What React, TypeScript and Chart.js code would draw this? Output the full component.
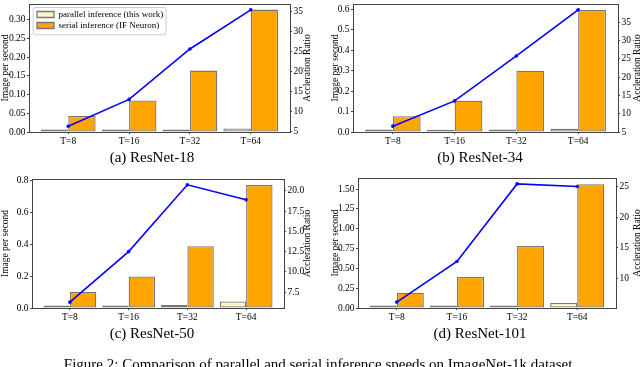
import React, { useEffect, useRef } from 'react';
import { Chart, registerables } from 'chart.js';

Chart.register(...registerables);

const FONT = "'Liberation Serif', 'Times New Roman', serif";
Chart.defaults.font.family = FONT;
Chart.defaults.font.size = 9.5;
Chart.defaults.color = '#000';

// ---------- data ----------
const categories = ['T=8', 'T=16', 'T=32', 'T=64'];
const xPositions = [0, 1, 2, 3];
const xRange = [-0.645, 3.645];

const seriesNames = ['parallel inference (this work)', 'serial inference (IF Neuron)'];
const leftAxisTitle = 'Image per second';
const rightAxisTitle = 'Accleration Ratio';

// ResNet-18
const parallel18 = [0.0068, 0.0065, 0.0065, 0.0095];
const serial18 = [0.043, 0.084, 0.164, 0.327];
const ratio18 = [6.4, 13.1, 25.7, 35.5];
const leftTicks18 = [0, 0.05, 0.1, 0.15, 0.2, 0.25, 0.3];
const rightTicks18 = [5, 10, 15, 20, 25, 30, 35];
const leftRange18 = [0, 0.342];
const rightRange18 = [4.95, 36.95];

// ResNet-34
const parallel34 = [0.0118, 0.0115, 0.0117, 0.0157];
const serial34 = [0.077, 0.153, 0.3, 0.597];
const ratio34 = [6.6, 13.5, 25.8, 38.4];
const leftTicks34 = [0, 0.1, 0.2, 0.3, 0.4, 0.5, 0.6];
const rightTicks34 = [5, 10, 15, 20, 25, 30, 35];
const leftRange34 = [0, 0.626];
const rightRange34 = [5.0, 40.0];

// ResNet-50
const parallel50 = [0.016, 0.016, 0.019, 0.041];
const serial50 = [0.1, 0.198, 0.388, 0.773];
const ratio50 = [6.27, 12.5, 20.74, 18.89];
const leftTicks50 = [0, 0.2, 0.4, 0.6, 0.8];
const rightTicks50 = [7.5, 10, 12.5, 15, 17.5, 20];
const leftRange50 = [0, 0.811];
const rightRange50 = [5.55, 21.46];

// ResNet-101
const parallel101 = [0.031, 0.031, 0.031, 0.063];
const serial101 = [0.194, 0.392, 0.784, 1.563];
const ratio101 = [6.22, 12.8, 25.38, 24.95];
const leftTicks101 = [0, 0.25, 0.5, 0.75, 1.0, 1.25, 1.5];
const rightTicks101 = [10, 15, 20, 25];
const leftRange101 = [0, 1.641];
const rightRange101 = [5.26, 26.34];

const captions = ['(a) ResNet-18', '(b) ResNet-34', '(c) ResNet-50', '(d) ResNet-101'];
const figureCaption = 'Figure 2: Comparison of parallel and serial inference speeds on ImageNet-1k dataset.';

// ---------- panels (data + layout) ----------
const panels = [
  {
    parallel: parallel18, serial: serial18, ratio: ratio18,
    leftTicks: leftTicks18, leftDec: 2, leftRange: leftRange18,
    rightTicks: rightTicks18, rightDec: 0, rightRange: rightRange18,
    legend: true,
    box: { x: 0, y: 0, w: 320, h: 150 },
    pad: { top: 3, left: 29, right: 30, bottom: 18 },
    leftTitlePad: 0.25, rightTitleX: 307,
  },
  {
    parallel: parallel34, serial: serial34, ratio: ratio34,
    leftTicks: leftTicks34, leftDec: 1, leftRange: leftRange34,
    rightTicks: rightTicks34, rightDec: 0, rightRange: rightRange34,
    legend: false,
    box: { x: 320, y: 0, w: 320, h: 150 },
    pad: { top: 0, left: 33, right: 22, bottom: 18 },
    leftTitlePad: 10.25, rightTitleX: 317,
  },
  {
    parallel: parallel50, serial: serial50, ratio: ratio50,
    leftTicks: leftTicks50, leftDec: 1, leftRange: leftRange50,
    rightTicks: rightTicks50, rightDec: 1, rightRange: rightRange50,
    legend: false,
    box: { x: 0, y: 170, w: 320, h: 160 },
    pad: { top: 9, left: 32, right: 36, bottom: 22 },
    leftTitlePad: 0.25, rightTitleX: 307.5,
  },
  {
    parallel: parallel101, serial: serial101, ratio: ratio101,
    leftTicks: leftTicks101, leftDec: 2, leftRange: leftRange101,
    rightTicks: rightTicks101, rightDec: 0, rightRange: rightRange101,
    legend: false,
    box: { x: 320, y: 170, w: 320, h: 160 },
    pad: { top: 8, left: 38, right: 24, bottom: 22 },
    leftTitlePad: 10.25, rightTitleX: 317,
  },
];

const captionPos = [
  { cx: 152, top: 150 },
  { cx: 480, top: 150 },
  { cx: 152, top: 326 },
  { cx: 480, top: 326 },
];

const PARALLEL_COLOR = '#FFF5CC';
const SERIAL_COLOR = '#FFA500';
const EDGE_COLOR = '#777777';
const LINE_COLOR = '#0000FF';
const SPINE_COLOR = '#444444';

function buildConfig(p: any): any {
  const decor = {
    id: 'decor',
    afterLayout(chart: any) {
      if (p.legend && chart.legend) {
        chart.legend.left = chart.chartArea.left + 6;
        chart.legend.top = chart.chartArea.top + 4;
      }
    },
    beforeDraw(chart: any) {
      if (!p.legend || !chart.legend) return;
      const lg = chart.legend;
      const pd = 2;
      const bx = lg.left + pd;
      const by = lg.top + pd;
      const maxW = Math.max(...(lg.legendHitBoxes || []).map((h: any) => h.width));
      const n = (lg.legendItems || []).length;
      const x = bx - 4.3;
      const y = by - 3;
      const w = maxW + 4.3 + 2.4;
      const h = n * 9 + (n - 1) * pd + 3 + 4.3;
      const ctx = chart.ctx;
      ctx.save();
      ctx.beginPath();
      if (ctx.roundRect) ctx.roundRect(x + 0.5, y + 0.5, w, h, 2);
      else ctx.rect(x + 0.5, y + 0.5, w, h);
      ctx.fillStyle = 'rgba(255,255,255,0.8)';
      ctx.fill();
      ctx.strokeStyle = '#cccccc';
      ctx.lineWidth = 1;
      ctx.stroke();
      ctx.restore();
    },
    afterDraw(chart: any) {
      const ctx = chart.ctx;
      const a = chart.chartArea;
      ctx.save();
      ctx.strokeStyle = SPINE_COLOR;
      ctx.lineWidth = 1;
      ctx.strokeRect(a.left + 0.5, a.top + 0.5, a.right - a.left, a.bottom - a.top);
      ctx.translate(p.rightTitleX, (a.top + a.bottom) / 2);
      ctx.rotate(-Math.PI / 2);
      ctx.font = `9.5px ${FONT}`;
      ctx.fillStyle = '#000';
      ctx.textAlign = 'center';
      ctx.textBaseline = 'middle';
      ctx.fillText(rightAxisTitle, 0, 0);
      ctx.restore();
    },
  };

  const tickGrid = {
    display: true,
    drawOnChartArea: false,
    drawTicks: true,
    tickLength: 2,
    color: SPINE_COLOR,
    offset: false,
  };

  return {
    type: 'bar',
    data: {
      datasets: [
        {
          type: 'bar',
          label: seriesNames[0],
          data: p.parallel.map((v: number, i: number) => ({ x: xPositions[i], y: v })),
          backgroundColor: PARALLEL_COLOR,
          borderColor: EDGE_COLOR,
          borderWidth: 1.3,
          borderSkipped: false,
          categoryPercentage: 0.9,
          barPercentage: 1.0,
          yAxisID: 'y',
          order: 0,
        },
        {
          type: 'bar',
          label: seriesNames[1],
          data: p.serial.map((v: number, i: number) => ({ x: xPositions[i], y: v })),
          backgroundColor: SERIAL_COLOR,
          borderColor: EDGE_COLOR,
          borderWidth: 1.3,
          borderSkipped: false,
          categoryPercentage: 0.9,
          barPercentage: 1.0,
          yAxisID: 'y',
          order: 0,
        },
        {
          type: 'line',
          label: rightAxisTitle,
          data: p.ratio.map((v: number, i: number) => ({ x: xPositions[i], y: v })),
          borderColor: LINE_COLOR,
          backgroundColor: LINE_COLOR,
          borderWidth: 1.6,
          pointRadius: 1.8,
          pointBorderWidth: 0,
          pointBackgroundColor: LINE_COLOR,
          tension: 0,
          fill: false,
          yAxisID: 'y1',
          order: -1,
        },
      ],
    },
    options: {
      responsive: false,
      maintainAspectRatio: false,
      animation: false,
      devicePixelRatio: 1,
      events: [],
      layout: { padding: { top: p.pad.top, left: 0, right: 0, bottom: 0 } },
      plugins: {
        tooltip: { enabled: false },
        title: { display: false },
        legend: {
          display: p.legend,
          position: 'chartArea',
          align: 'start',
          labels: {
            boxWidth: 17,
            boxHeight: 6,
            padding: 2,
            color: '#000',
            font: { size: 9, family: FONT },
            filter: (item: any) => item.datasetIndex < 2,
          },
        },
      },
      scales: {
        x: {
          type: 'linear',
          min: xRange[0],
          max: xRange[1],
          offset: false,
          grid: tickGrid,
          border: { display: false },
          ticks: {
            autoSkip: false,
            maxRotation: 0,
            minRotation: 0,
            padding: 1.5,
            color: '#000',
            font: { size: 9.5 },
            callback: (_v: any, i: number) => categories[i],
          },
          afterBuildTicks: (s: any) => {
            s.ticks = xPositions.map((v) => ({ value: v }));
          },
          afterFit: (s: any) => {
            s.height = p.pad.bottom;
            s.paddingLeft = 0;
            s.paddingRight = 0;
          },
        },
        y: {
          type: 'linear',
          position: 'left',
          min: p.leftRange[0],
          max: p.leftRange[1],
          grid: tickGrid,
          border: { display: false },
          title: {
            display: true,
            text: leftAxisTitle,
            color: '#000',
            font: { size: 9.5, lineHeight: 1 },
            padding: { top: p.leftTitlePad, bottom: 0 },
          },
          ticks: {
            padding: 1.5,
            color: '#000',
            font: { size: 9.5 },
            callback: (v: any) => Number(v).toFixed(p.leftDec),
          },
          afterBuildTicks: (s: any) => {
            s.ticks = p.leftTicks.map((v: number) => ({ value: v }));
          },
          afterFit: (s: any) => {
            s.width = p.pad.left;
            s.paddingTop = 0;
            s.paddingBottom = 0;
          },
        },
        y1: {
          type: 'linear',
          position: 'right',
          min: p.rightRange[0],
          max: p.rightRange[1],
          grid: tickGrid,
          border: { display: false },
          title: { display: false },
          ticks: {
            padding: 1.5,
            color: '#000',
            font: { size: 9.5 },
            callback: (v: any) => Number(v).toFixed(p.rightDec),
          },
          afterBuildTicks: (s: any) => {
            s.ticks = p.rightTicks.map((v: number) => ({ value: v }));
          },
          afterFit: (s: any) => {
            s.width = p.pad.right;
            s.paddingTop = 0;
            s.paddingBottom = 0;
          },
        },
      },
    },
    plugins: [decor],
  };
}

function PanelChart({ p }: { p: any }) {
  const ref = useRef<HTMLCanvasElement>(null);
  useEffect(() => {
    if (!ref.current) return;
    const chart = new Chart(ref.current, buildConfig(p));
    return () => chart.destroy();
  }, [p]);
  return (
    <canvas
      ref={ref}
      width={p.box.w}
      height={p.box.h}
      style={{ position: 'absolute', left: p.box.x, top: p.box.y, width: p.box.w, height: p.box.h }}
    />
  );
}

export default function App() {
  const capStyle = (cx: number, top: number): React.CSSProperties => ({
    position: 'absolute',
    left: cx - 150,
    top,
    width: 300,
    textAlign: 'center',
    fontFamily: FONT,
    fontSize: 15,
    lineHeight: '15px',
    color: '#000',
    whiteSpace: 'nowrap',
  });
  return (
    <div
      style={{
        position: 'absolute',
        left: 0,
        top: 0,
        width: 640,
        height: 367,
        overflow: 'hidden',
        background: '#fff',
      }}
    >
      {panels.map((p, i) => (
        <PanelChart key={i} p={p} />
      ))}
      {captions.map((c, i) => (
        <div key={c} style={capStyle(captionPos[i].cx, captionPos[i].top)}>
          {c}
        </div>
      ))}
      <div
        style={{
          position: 'absolute',
          left: 0,
          top: 357,
          width: 640,
          textAlign: 'center',
          fontFamily: FONT,
          fontSize: 15,
          lineHeight: '15px',
          color: '#000',
          whiteSpace: 'nowrap',
        }}
      >
        {figureCaption}
      </div>
    </div>
  );
}
